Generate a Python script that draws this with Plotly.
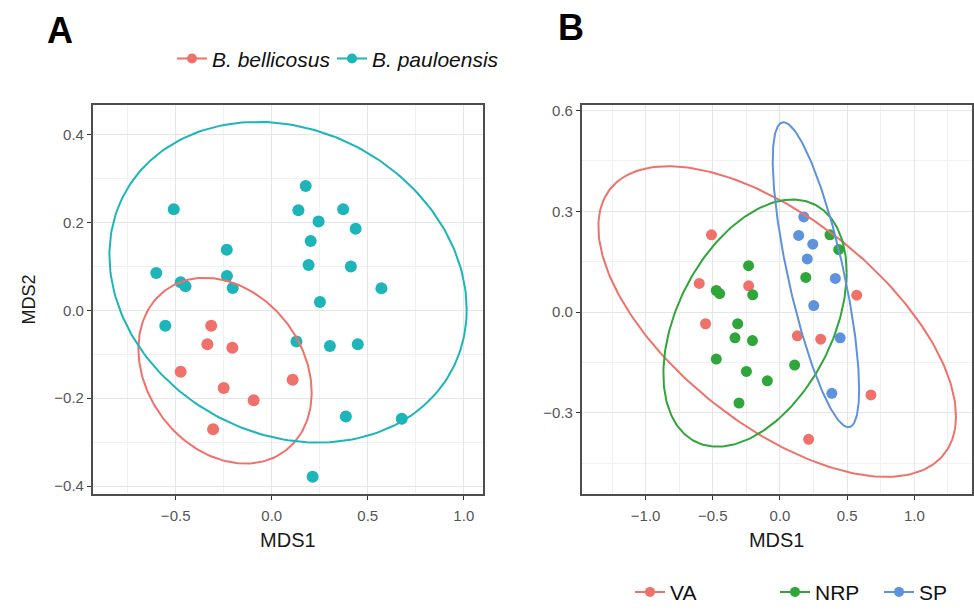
import numpy as np
import plotly.graph_objects as go

# ---------------- data ----------------
MDS1 = [0.177, -0.510, 0.139, 0.372, 0.244, 0.437, 0.203, -0.234, 0.192, 0.412,
        -0.601, -0.233, -0.474, -0.449, -0.203, 0.571, 0.251, -0.554, 0.129, 0.303,
        0.448, 0.386, 0.677, 0.213,
        -0.315, -0.335, -0.205, -0.474, 0.109, -0.250, -0.094, -0.305]
MDS2 = [0.283, 0.230, 0.228, 0.230, 0.202, 0.186, 0.158, 0.138, 0.103, 0.100,
        0.085, 0.078, 0.064, 0.055, 0.051, 0.050, 0.019, -0.035, -0.071, -0.081,
        -0.077, -0.242, -0.247, -0.379,
        -0.035, -0.077, -0.085, -0.140, -0.158, -0.177, -0.205, -0.271]
SPECIES = ["B. pauloensis"] * 24 + ["B. bellicosus"] * 8
REGION = ["SP", "VA", "SP", "NRP", "SP", "NRP", "SP", "NRP", "NRP", "SP",
          "VA", "VA", "NRP", "NRP", "NRP", "VA", "SP", "VA", "VA", "VA",
          "SP", "SP", "VA", "VA",
          "NRP", "NRP", "NRP", "NRP", "NRP", "NRP", "NRP", "NRP"]

SPECIES_LEVELS = ["B. bellicosus", "B. pauloensis"]
REGION_LEVELS = ["VA", "NRP", "SP"]

# 95% ellipses (centre, spread along MDS1/MDS2, correlation) per group
ELL_A_CX = [-0.243, 0.085]
ELL_A_CY = [-0.1375, 0.064]
ELL_A_SX = [0.451, 0.930]
ELL_A_SY = [0.2115, 0.365]
ELL_A_RHO = [-0.235, -0.170]

ELL_B_CX = [-0.021, -0.186, 0.2675]
ELL_B_CY = [-0.0285, -0.033, 0.111]
ELL_B_SX = [1.331, 0.682, 0.3215]
ELL_B_SY = [0.4625, 0.368, 0.454]
ELL_B_RHO = [-0.61, 0.41, -0.75]

# ---------------- styling ----------------
COL_A = {"B. bellicosus": "#F0716A", "B. pauloensis": "#1BB5BA"}
COL_B = {"VA": "#F0716A", "NRP": "#2EA63A", "SP": "#5E92DC"}
FONT = "Liberation Sans, Arial, sans-serif"
W, H = 974, 613


def ellipse(cx, cy, sx, sy, rho, n=241):
    t = np.linspace(0, 2 * np.pi, n)
    x = cx + sx * np.cos(t)
    y = cy + sy * (rho * np.cos(t) + np.sqrt(1 - rho ** 2) * np.sin(t))
    return x, y


mds1 = np.array(MDS1)
mds2 = np.array(MDS2)
species = np.array(SPECIES)
region = np.array(REGION)

fig = go.Figure()

# ---- panel A ----
leg_a = ["legend", "legend2"]
for i, sp in enumerate(SPECIES_LEVELS):
    m = species == sp
    fig.add_trace(go.Scatter(x=mds1[m], y=mds2[m], mode="markers",
                             marker=dict(color=COL_A[sp], size=12),
                             showlegend=False, xaxis="x", yaxis="y"))
for i, sp in enumerate(SPECIES_LEVELS):
    ex, ey = ellipse(ELL_A_CX[i], ELL_A_CY[i], ELL_A_SX[i], ELL_A_SY[i], ELL_A_RHO[i])
    fig.add_trace(go.Scatter(x=ex, y=ey, mode="lines",
                             line=dict(color=COL_A[sp], width=2),
                             showlegend=False, xaxis="x", yaxis="y"))
    fig.add_trace(go.Scatter(x=[None], y=[None], mode="lines+markers", name=sp,
                             line=dict(color=COL_A[sp], width=2),
                             marker=dict(color=COL_A[sp], size=10),
                             legend=leg_a[i], xaxis="x", yaxis="y"))

# ---- panel B ----
leg_b = ["legend3", "legend4", "legend5"]
for i, rg in enumerate(REGION_LEVELS):
    m = region == rg
    fig.add_trace(go.Scatter(x=mds1[m], y=mds2[m], mode="markers",
                             marker=dict(color=COL_B[rg], size=11),
                             showlegend=False, xaxis="x2", yaxis="y2"))
for i, rg in enumerate(REGION_LEVELS):
    ex, ey = ellipse(ELL_B_CX[i], ELL_B_CY[i], ELL_B_SX[i], ELL_B_SY[i], ELL_B_RHO[i])
    fig.add_trace(go.Scatter(x=ex, y=ey, mode="lines",
                             line=dict(color=COL_B[rg], width=2),
                             showlegend=False, xaxis="x2", yaxis="y2"))
    fig.add_trace(go.Scatter(x=[None], y=[None], mode="lines+markers", name=rg,
                             line=dict(color=COL_B[rg], width=2),
                             marker=dict(color=COL_B[rg], size=10),
                             legend=leg_b[i], xaxis="x2", yaxis="y2"))


def axis(domain, rng, dtick, mdtick, anchor, title=None, standoff=8, lblpad=0):
    d = dict(domain=domain, range=rng, anchor=anchor, dtick=dtick, tick0=0,
             tickformat=".1f", showgrid=True, gridcolor="#E6E6E6", gridwidth=1,
             minor=dict(dtick=mdtick, tick0=0, showgrid=True, gridcolor="#F1F1F1",
                        gridwidth=1, ticks=""),
             zeroline=False, showline=True, mirror=True, linecolor="#4D4D4D",
             linewidth=1.5, ticks="outside", ticklen=4, tickwidth=1.2,
             tickcolor="#333333", ticklabelstandoff=lblpad,
             tickfont=dict(family=FONT, size=15, color="#555555"))
    if title:
        d["title"] = dict(text=title["text"], standoff=standoff,
                          font=dict(family=FONT, size=title["size"], color="#1A1A1A"))
    return d


ydom = [1 - 502 / H, 1 - 104 / H]
xa = [92.7 / W, 483 / W]
xb = [581.7 / W, 971.7 / W]

legend_common = dict(orientation="h", xanchor="left", yanchor="middle",
                     bgcolor="rgba(0,0,0,0)", borderwidth=0)

fig.update_layout(
    width=W, height=H,
    margin=dict(l=0, r=0, t=0, b=0),
    paper_bgcolor="white", plot_bgcolor="white",
    font=dict(family=FONT, color="#1A1A1A"),
    xaxis=axis(xa, [-0.932, 1.100], 0.5, 0.25, "y", dict(text="MDS1", size=20), 10, 3),
    yaxis=axis(ydom, [-0.419, 0.468], 0.2, 0.1, "x", dict(text="MDS2", size=18), 14),
    xaxis2=axis(xb, [-1.476, 1.427], 0.5, 0.25, "y2", dict(text="MDS1", size=20), 10, 3),
    yaxis2=axis(ydom, [-0.543, 0.617], 0.3, 0.15, "x2"),
    legend=dict(x=172 / W, y=1 - 57 / H,
                font=dict(family=FONT, size=21, style="italic", color="#111111"),
                **legend_common),
    legend2=dict(x=332 / W, y=1 - 57 / H,
                 font=dict(family=FONT, size=21, style="italic", color="#111111"),
                 **legend_common),
    legend3=dict(x=630 / W, y=1 - 602 / H,
                 font=dict(family=FONT, size=21, color="#111111"), **legend_common),
    legend4=dict(x=775 / W, y=1 - 602 / H,
                 font=dict(family=FONT, size=21, color="#111111"), **legend_common),
    legend5=dict(x=879 / W, y=1 - 602 / H,
                 font=dict(family=FONT, size=21, color="#111111"), **legend_common),
    annotations=[
        dict(text="<b>A</b>", x=60 / W, y=1 - 28 / H, xref="paper", yref="paper",
             showarrow=False, font=dict(family=FONT, size=36, color="black"),
             xanchor="center", yanchor="middle"),
        dict(text="<b>B</b>", x=571 / W, y=1 - 25 / H, xref="paper", yref="paper",
             showarrow=False, font=dict(family=FONT, size=36, color="black"),
             xanchor="center", yanchor="middle"),
    ],
)

fig.write_html("out.html")
